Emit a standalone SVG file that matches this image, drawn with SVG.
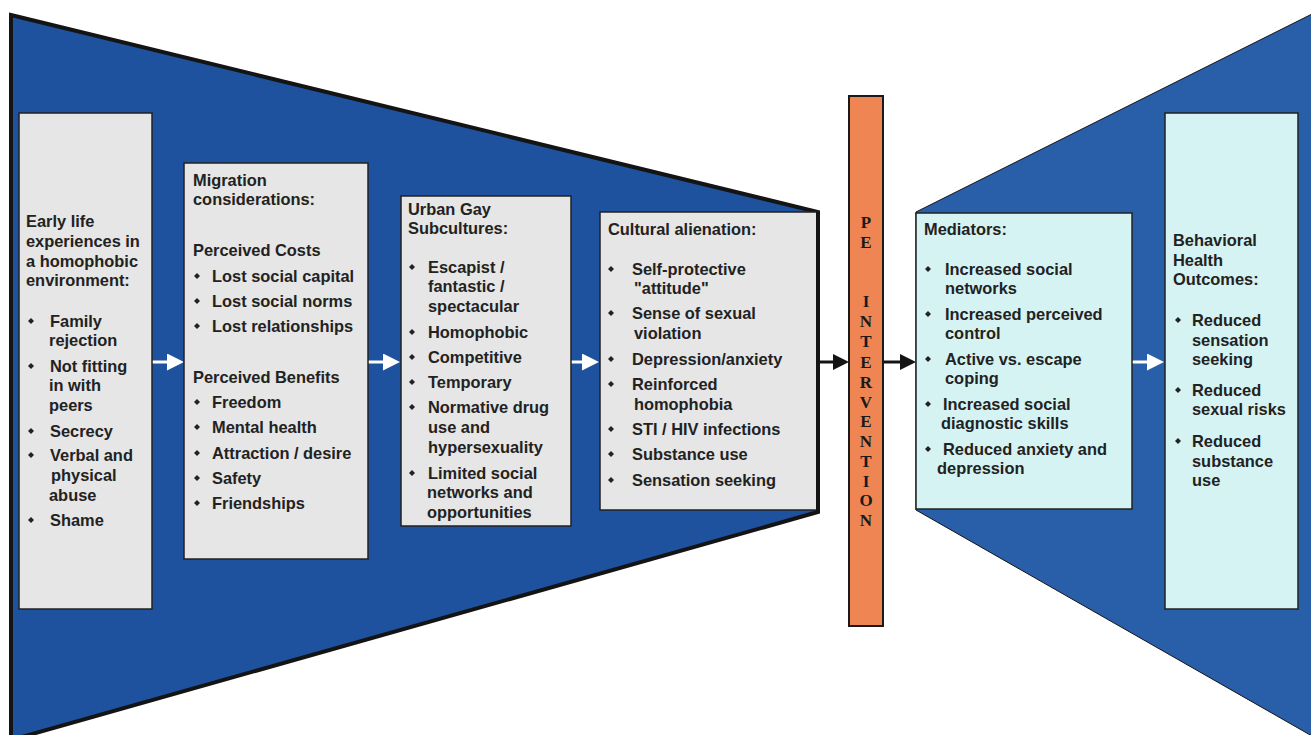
<svg xmlns="http://www.w3.org/2000/svg" xmlns:xlink="http://www.w3.org/1999/xlink" width="1311" height="735" viewBox="0 0 1311 735">
  <style>
    .funnel-l { fill: #1e529e; stroke: #141414; stroke-width: 4; stroke-linejoin: miter; }
    .funnel-r { fill: #295ea8; stroke: #141414; stroke-width: 1; }
    .box-g { fill: #e5e6e5; stroke: #222; stroke-width: 1.5; }
    .box-c { fill: #d6f3f3; stroke: #222; stroke-width: 1.5; }
    .pe { fill: #ef8552; stroke: #1a1a1a; stroke-width: 2; }
    text { font-family: "Liberation Sans", Arial, sans-serif; font-weight: bold; font-size: 16.4px; fill: #222; }
    .pe-t { font-family: "Liberation Serif", "Times New Roman", serif; font-size: 17px; fill: #1a1a1a; text-anchor: middle; }
    .bul { fill: #222; }
    .wline { stroke: #fff; stroke-width: 3; fill: none; }
    .bline { stroke: #141414; stroke-width: 3; fill: none; }
  </style>
  <defs>
    <path id="dm" class="bul" d="M0,-3 L3,0 L0,3 L-3,0 Z"/>
    <marker id="ah-w" viewBox="0 0 17 17" refX="9" refY="8.5" markerWidth="17" markerHeight="17" markerUnits="userSpaceOnUse" orient="auto">
      <path d="M0,0 L17,8.5 L0,17 Z" fill="#fff"/>
    </marker>
    <marker id="ah-b" viewBox="0 0 16 16" refX="8" refY="8" markerWidth="16" markerHeight="16" markerUnits="userSpaceOnUse" orient="auto">
      <path d="M0,0 L16,8 L0,16 Z" fill="#141414"/>
    </marker>
  </defs>

  <!-- funnels -->
  <g id="funnels">
    <polygon class="funnel-l" points="11,15 818,212 818,512 11,740"/>
    <polygon class="funnel-r" points="916,212 1312,14 1312,736 916,510"/>
  </g>

  <!-- connectors -->
  <g id="connectors">
    <line class="wline" x1="152" y1="362" x2="176" y2="362" marker-end="url(#ah-w)"/>
    <line class="wline" x1="368" y1="362" x2="392" y2="362" marker-end="url(#ah-w)"/>
    <line class="wline" x1="571" y1="362" x2="591" y2="362" marker-end="url(#ah-w)"/>
    <line class="bline" x1="818" y1="362" x2="841" y2="362" marker-end="url(#ah-b)"/>
    <line class="bline" x1="883" y1="362" x2="908" y2="362" marker-end="url(#ah-b)"/>
    <line class="wline" x1="1132" y1="362" x2="1156" y2="362" marker-end="url(#ah-w)"/>
  </g>

  <!-- early life -->
  <g id="node-early-life">
    <rect class="box-g" x="19" y="113" width="133" height="496"/>
    <text x="26" y="227">Early life</text>
    <text x="26" y="247">experiences in</text>
    <text x="26" y="267">a homophobic</text>
    <text x="26" y="286">environment:</text>
    <use href="#dm" x="31" y="321"/>
    <text x="50" y="327">Family</text>
    <text x="49" y="346">rejection</text>
    <use href="#dm" x="31" y="366"/>
    <text x="50" y="372">Not fitting</text>
    <text x="49" y="391">in with</text>
    <text x="49" y="411">peers</text>
    <use href="#dm" x="31" y="431"/>
    <text x="50" y="437">Secrecy</text>
    <use href="#dm" x="31" y="455"/>
    <text x="50" y="461">Verbal and</text>
    <text x="51" y="481">physical</text>
    <text x="49" y="501">abuse</text>
    <use href="#dm" x="31" y="520"/>
    <text x="50" y="526">Shame</text>
  </g>

  <!-- migration -->
  <g id="node-migration">
    <rect class="box-g" x="184" y="163" width="184" height="396"/>
    <text x="193" y="186">Migration</text>
    <text x="193" y="205">considerations:</text>
    <text x="193" y="256">Perceived Costs</text>
    <use href="#dm" x="197" y="276"/>
    <text x="212" y="282">Lost social capital</text>
    <use href="#dm" x="197" y="301"/>
    <text x="212" y="307">Lost social norms</text>
    <use href="#dm" x="197" y="326"/>
    <text x="212" y="332">Lost relationships</text>
    <text x="193" y="383">Perceived Benefits</text>
    <use href="#dm" x="197" y="402"/>
    <text x="212" y="408">Freedom</text>
    <use href="#dm" x="197" y="427"/>
    <text x="212" y="433">Mental health</text>
    <use href="#dm" x="197" y="453"/>
    <text x="212" y="459">Attraction / desire</text>
    <use href="#dm" x="197" y="478"/>
    <text x="212" y="484">Safety</text>
    <use href="#dm" x="197" y="503"/>
    <text x="212" y="509">Friendships</text>
  </g>

  <!-- urban subcultures -->
  <g id="node-subcultures">
    <rect class="box-g" x="401" y="196" width="170" height="330"/>
    <text x="408" y="215">Urban Gay</text>
    <text x="408" y="234">Subcultures:</text>
    <use href="#dm" x="412" y="267"/>
    <text x="428" y="273">Escapist /</text>
    <text x="428" y="292">fantastic /</text>
    <text x="428" y="312">spectacular</text>
    <use href="#dm" x="412" y="332"/>
    <text x="428" y="338">Homophobic</text>
    <use href="#dm" x="412" y="357"/>
    <text x="428" y="363">Competitive</text>
    <use href="#dm" x="412" y="382"/>
    <text x="428" y="388">Temporary</text>
    <use href="#dm" x="412" y="407"/>
    <text x="428" y="413">Normative drug</text>
    <text x="428" y="433">use and</text>
    <text x="428" y="453">hypersexuality</text>
    <use href="#dm" x="412" y="473"/>
    <text x="428" y="479">Limited social</text>
    <text x="427" y="498">networks and</text>
    <text x="427" y="518">opportunities</text>
  </g>

  <!-- cultural alienation -->
  <g id="node-alienation">
    <rect class="box-g" x="600" y="212" width="218" height="298"/>
    <line x1="818" y1="212" x2="818" y2="512" stroke="#141414" stroke-width="4"/>
    <text x="608" y="235">Cultural alienation:</text>
    <use href="#dm" x="611" y="269"/>
    <text x="632" y="275">Self-protective</text>
    <text x="634" y="294">"attitude"</text>
    <use href="#dm" x="611" y="313"/>
    <text x="632" y="319">Sense of sexual</text>
    <text x="634" y="339">violation</text>
    <use href="#dm" x="611" y="359"/>
    <text x="632" y="365">Depression/anxiety</text>
    <use href="#dm" x="611" y="384"/>
    <text x="632" y="390">Reinforced</text>
    <text x="634" y="410">homophobia</text>
    <use href="#dm" x="611" y="429"/>
    <text x="632" y="435">STI / HIV infections</text>
    <use href="#dm" x="611" y="454"/>
    <text x="632" y="460">Substance use</text>
    <use href="#dm" x="611" y="480"/>
    <text x="632" y="486">Sensation seeking</text>
  </g>

  <!-- PE intervention -->
  <g id="node-intervention">
    <rect class="pe" x="849" y="96" width="34" height="530"/>
    <text class="pe-t" x="866" y="228">P</text>
    <text class="pe-t" x="866" y="248">E</text>
    <text class="pe-t" x="866" y="307">I</text>
    <text class="pe-t" x="866" y="327">N</text>
    <text class="pe-t" x="866" y="347">T</text>
    <text class="pe-t" x="866" y="368">E</text>
    <text class="pe-t" x="866" y="388">R</text>
    <text class="pe-t" x="866" y="408">V</text>
    <text class="pe-t" x="866" y="427">E</text>
    <text class="pe-t" x="866" y="447">N</text>
    <text class="pe-t" x="866" y="467">T</text>
    <text class="pe-t" x="866" y="487">I</text>
    <text class="pe-t" x="866" y="506">O</text>
    <text class="pe-t" x="866" y="526">N</text>
  </g>

  <!-- mediators -->
  <g id="node-mediators">
    <rect class="box-c" x="916" y="213" width="216" height="296"/>
    <text x="924" y="235">Mediators:</text>
    <use href="#dm" x="928" y="269"/>
    <text x="945" y="275">Increased social</text>
    <text x="945" y="294">networks</text>
    <use href="#dm" x="928" y="314"/>
    <text x="945" y="320">Increased perceived</text>
    <text x="945" y="339">control</text>
    <use href="#dm" x="928" y="359"/>
    <text x="945" y="365">Active vs. escape</text>
    <text x="945" y="384">coping</text>
    <use href="#dm" x="928" y="404"/>
    <text x="943" y="410">Increased social</text>
    <text x="941" y="429">diagnostic skills</text>
    <use href="#dm" x="928" y="449"/>
    <text x="943" y="455">Reduced anxiety and</text>
    <text x="937" y="474">depression</text>
  </g>

  <!-- outcomes -->
  <g id="node-outcomes">
    <rect class="box-c" x="1165" y="113" width="133" height="496"/>
    <text x="1173" y="246">Behavioral</text>
    <text x="1173" y="266">Health</text>
    <text x="1173" y="285">Outcomes:</text>
    <use href="#dm" x="1178" y="320"/>
    <text x="1192" y="326">Reduced</text>
    <text x="1192" y="346">sensation</text>
    <text x="1192" y="365">seeking</text>
    <use href="#dm" x="1178" y="390"/>
    <text x="1192" y="396">Reduced</text>
    <text x="1192" y="415">sexual risks</text>
    <use href="#dm" x="1178" y="441"/>
    <text x="1192" y="447">Reduced</text>
    <text x="1192" y="467">substance</text>
    <text x="1192" y="486">use</text>
  </g>
</svg>
